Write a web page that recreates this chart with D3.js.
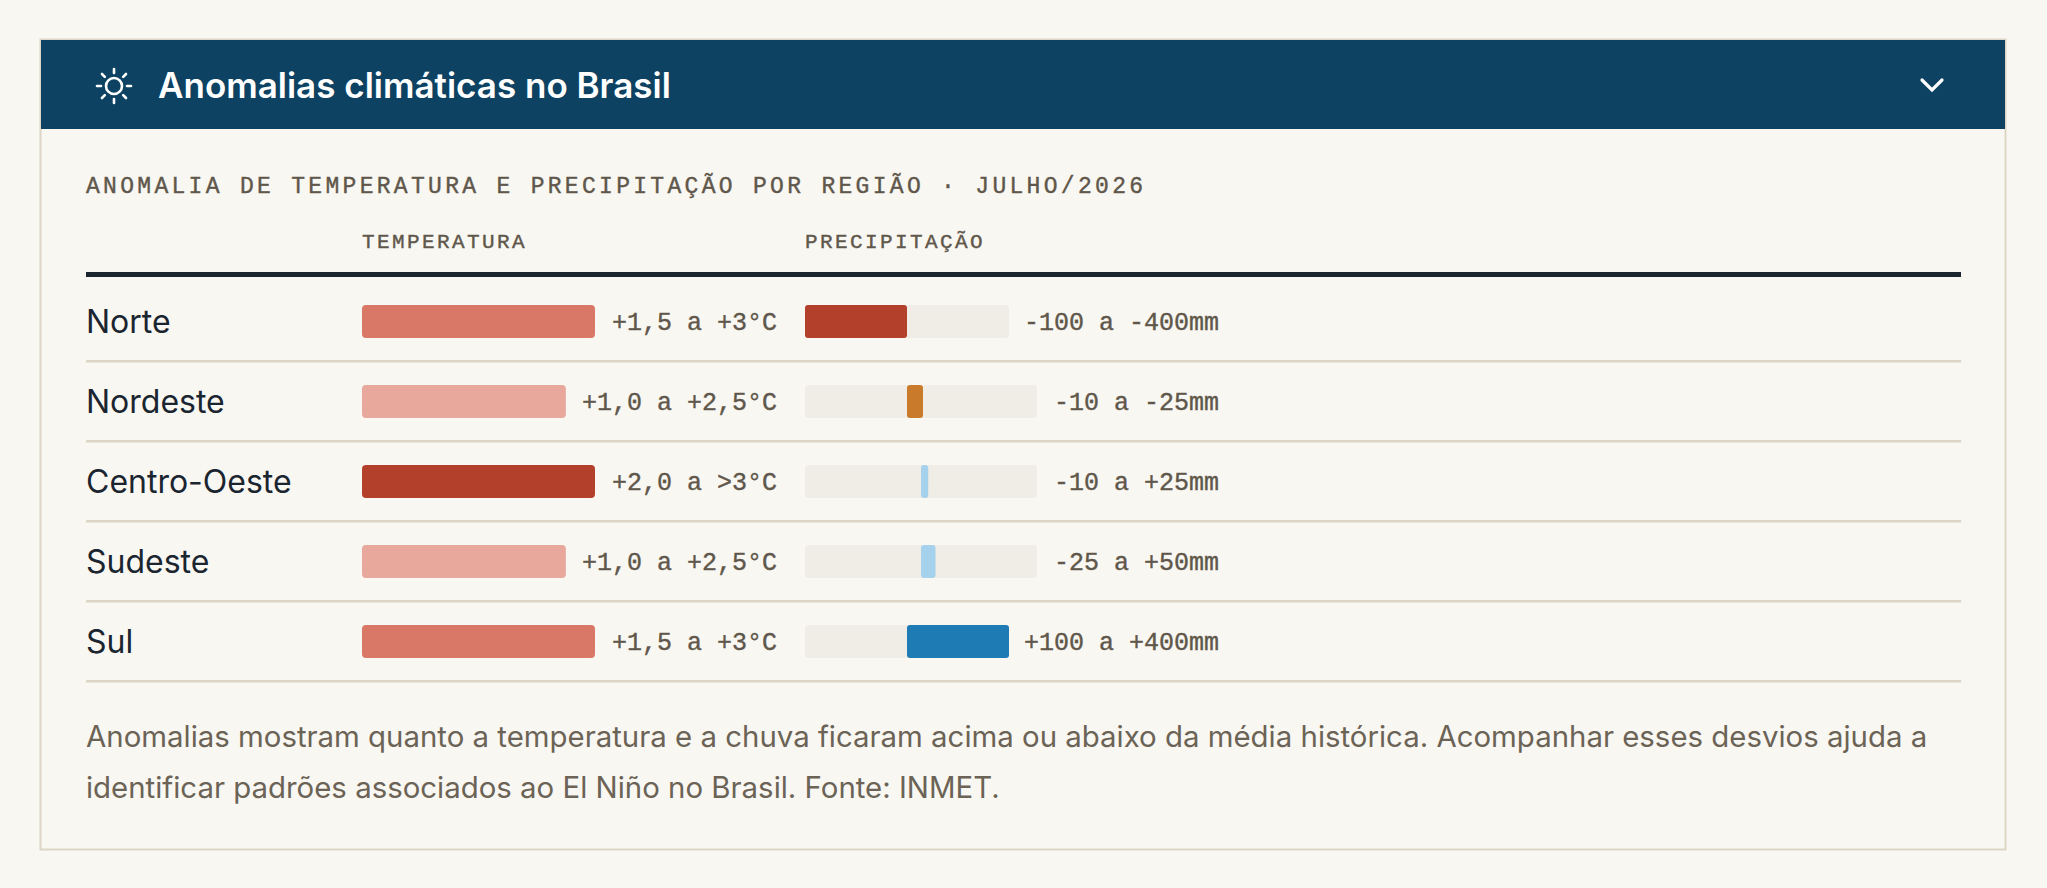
<!DOCTYPE html>
<html><head><meta charset="utf-8">
<script src="https://cdn.jsdelivr.net/npm/d3@7"></script>
<style>
body{margin:0;background:#f9f7f2;}
</style></head>
<body><div id="chart"></div>
<script>
var regions = ["Norte", "Nordeste", "Centro-Oeste", "Sudeste", "Sul"];
var tempLo = [1.5, 1.0, 2.0, 1.0, 1.5];
var tempHi = [3, 2.5, 3, 2.5, 3];
var tempLabels = ["+1,5 a +3°C", "+1,0 a +2,5°C", "+2,0 a >3°C", "+1,0 a +2,5°C", "+1,5 a +3°C"];
var precLo = [-400, -25, -10, -25, 100];
var precHi = [-100, -10, 25, 50, 400];
var precLabels = ["-100 a -400mm", "-10 a -25mm", "-10 a +25mm", "-25 a +50mm", "+100 a +400mm"];
var tempColors = ["#d97867", "#e8a89c", "#b3402b", "#e8a89c", "#d97867"];
var precColors = ["#b3402b", "#c97a2b", "#a6d1ec", "#a6d1ec", "#1f7bb4"];

var width = 2047, height = 888;
var mono = "'Liberation Mono', 'DejaVu Sans Mono', monospace";
var sans = "Inter, 'Noto Sans', sans-serif";

var svg = d3.select("#chart").append("svg")
    .attr("width", width).attr("height", height);

svg.append("rect").attr("width", width).attr("height", height).attr("fill", "#f9f7f2");

// panel
svg.append("rect").attr("x", 40.5).attr("y", 39.5).attr("width", 1965).attr("height", 810)
    .attr("fill", "#f9f7f2").attr("stroke", "#ddd6c6").attr("stroke-width", 2);
svg.append("rect").attr("x", 41).attr("y", 40).attr("width", 1964).attr("height", 89).attr("fill", "#0d4263");

// sun icon
var sun = svg.append("g").attr("transform", "translate(114,86)")
    .attr("stroke", "#fff").attr("stroke-width", 2.6).attr("fill", "none").attr("stroke-linecap", "round");
sun.append("circle").attr("r", 8);
d3.range(8).forEach(function(i){
    var a = i * Math.PI / 4;
    sun.append("line")
    .attr("x1", Math.cos(a) * 13).attr("y1", Math.sin(a) * 13)
    .attr("x2", Math.cos(a) * 17).attr("y2", Math.sin(a) * 17);
});
svg.append("text").attr("x", 158).attr("y", 98)
    .attr("fill", "#fff").attr("font-family", sans).attr("font-size", 35).attr("font-weight", 600)
    .text("Anomalias climáticas no Brasil");
svg.append("path").attr("d", "M1922,80 L1932,90 L1942,80")
    .attr("fill", "none").attr("stroke", "#fff").attr("stroke-width", 3.2).attr("stroke-linecap", "round");

svg.append("text").attr("x", 86).attr("y", 193)
    .attr("fill", "#5f574b").attr("font-family", mono).attr("font-size", 23).attr("letter-spacing", 3.3)
    .attr("stroke", "#5f574b").attr("stroke-width", 0.4)
    .text("ANOMALIA DE TEMPERATURA E PRECIPITAÇÃO POR REGIÃO · JULHO/2026");
svg.append("text").attr("x", 362).attr("y", 248)
    .attr("fill", "#5f574b").attr("font-family", mono).attr("font-size", 21).attr("letter-spacing", 2.4)
    .attr("stroke", "#5f574b").attr("stroke-width", 0.4)
    .text("TEMPERATURA");
svg.append("text").attr("x", 805).attr("y", 248)
    .attr("fill", "#5f574b").attr("font-family", mono).attr("font-size", 21).attr("letter-spacing", 2.4)
    .attr("stroke", "#5f574b").attr("stroke-width", 0.4)
    .text("PRECIPITAÇÃO");

svg.append("rect").attr("x", 86).attr("y", 272).attr("width", 1875).attr("height", 5).attr("fill", "#1a2530");

var y = d3.scaleBand().domain(regions).range([282, 682]);
var tempX = d3.scaleLinear().domain([-1, 3]).range([0, 233]);

var rows = svg.selectAll("g.row").data(regions).enter().append("g")
    .attr("class", "row")
    .attr("transform", function(d){ return "translate(0," + y(d) + ")"; });

rows.append("rect").attr("x", 86).attr("y", y.bandwidth() - 2).attr("width", 1875).attr("height", 2.5)
    .attr("fill", "#dcd5c6");

rows.append("text").attr("x", 86).attr("y", y.bandwidth() / 2 + 11)
    .attr("fill", "#1a2530").attr("font-family", sans).attr("font-size", 32)
    .text(function(d){ return d; });

var barY = y.bandwidth() / 2 - 17, barH = 33;

rows.append("rect").attr("x", 362).attr("y", barY).attr("height", barH).attr("rx", 4)
    .attr("width", function(d, i){ return tempX(tempHi[i]); })
    .attr("fill", function(d, i){ return tempColors[i]; });
rows.append("text").attr("x", 777).attr("y", y.bandwidth() / 2 + 8).attr("text-anchor", "end")
    .attr("fill", "#5f574b").attr("font-family", mono).attr("font-size", 25)
    .attr("stroke", "#5f574b").attr("stroke-width", 0.4)
    .text(function(d, i){ return tempLabels[i]; });

// precipitation: track shorter when label is long; bar runs from 0 to the extreme value
var trackW = regions.map(function(d, i){ return precLabels[i].length > 11 ? 204 : 232; });
function extreme(i){ return Math.abs(precLo[i]) > Math.abs(precHi[i]) ? precLo[i] : precHi[i]; }
function px(i){ return d3.scaleLinear().domain([-400, 400]).range([805, 805 + trackW[i]]); }
function minW(i){ return extreme(i) < 0 ? 16 : 5; }
rows.append("rect").attr("x", 805).attr("y", barY).attr("height", barH).attr("rx", 4)
    .attr("width", function(d, i){ return trackW[i]; }).attr("fill", "#f0ede6");
rows.append("rect").attr("y", barY).attr("height", barH).attr("rx", 3)
    .attr("x", function(d, i){
        var s = px(i), e = extreme(i);
        if (e > 0) return s(0);
        return Math.min(s(e), s(0) - minW(i) + 2);
    })
    .attr("width", function(d, i){
        var s = px(i), e = extreme(i);
        return Math.max(Math.abs(s(e) - s(0)), minW(i));
    })
    .attr("fill", function(d, i){ return precColors[i]; });
rows.append("text").attr("x", 1219).attr("y", y.bandwidth() / 2 + 8).attr("text-anchor", "end")
    .attr("fill", "#5f574b").attr("font-family", mono).attr("font-size", 25)
    .attr("stroke", "#5f574b").attr("stroke-width", 0.4)
    .text(function(d, i){ return precLabels[i]; });

var notes = ["Anomalias mostram quanto a temperatura e a chuva ficaram acima ou abaixo da média histórica. Acompanhar esses desvios ajuda a",
    "identificar padrões associados ao El Niño no Brasil. Fonte: INMET."];
svg.selectAll("text.note").data(notes).enter().append("text").attr("class", "note")
    .attr("x", 86).attr("y", function(d, i){ return 747 + i * 51; })
    .attr("fill", "#6b6356").attr("font-family", sans).attr("font-size", 29.4)
    .text(function(d){ return d; });
</script>
</body></html>
